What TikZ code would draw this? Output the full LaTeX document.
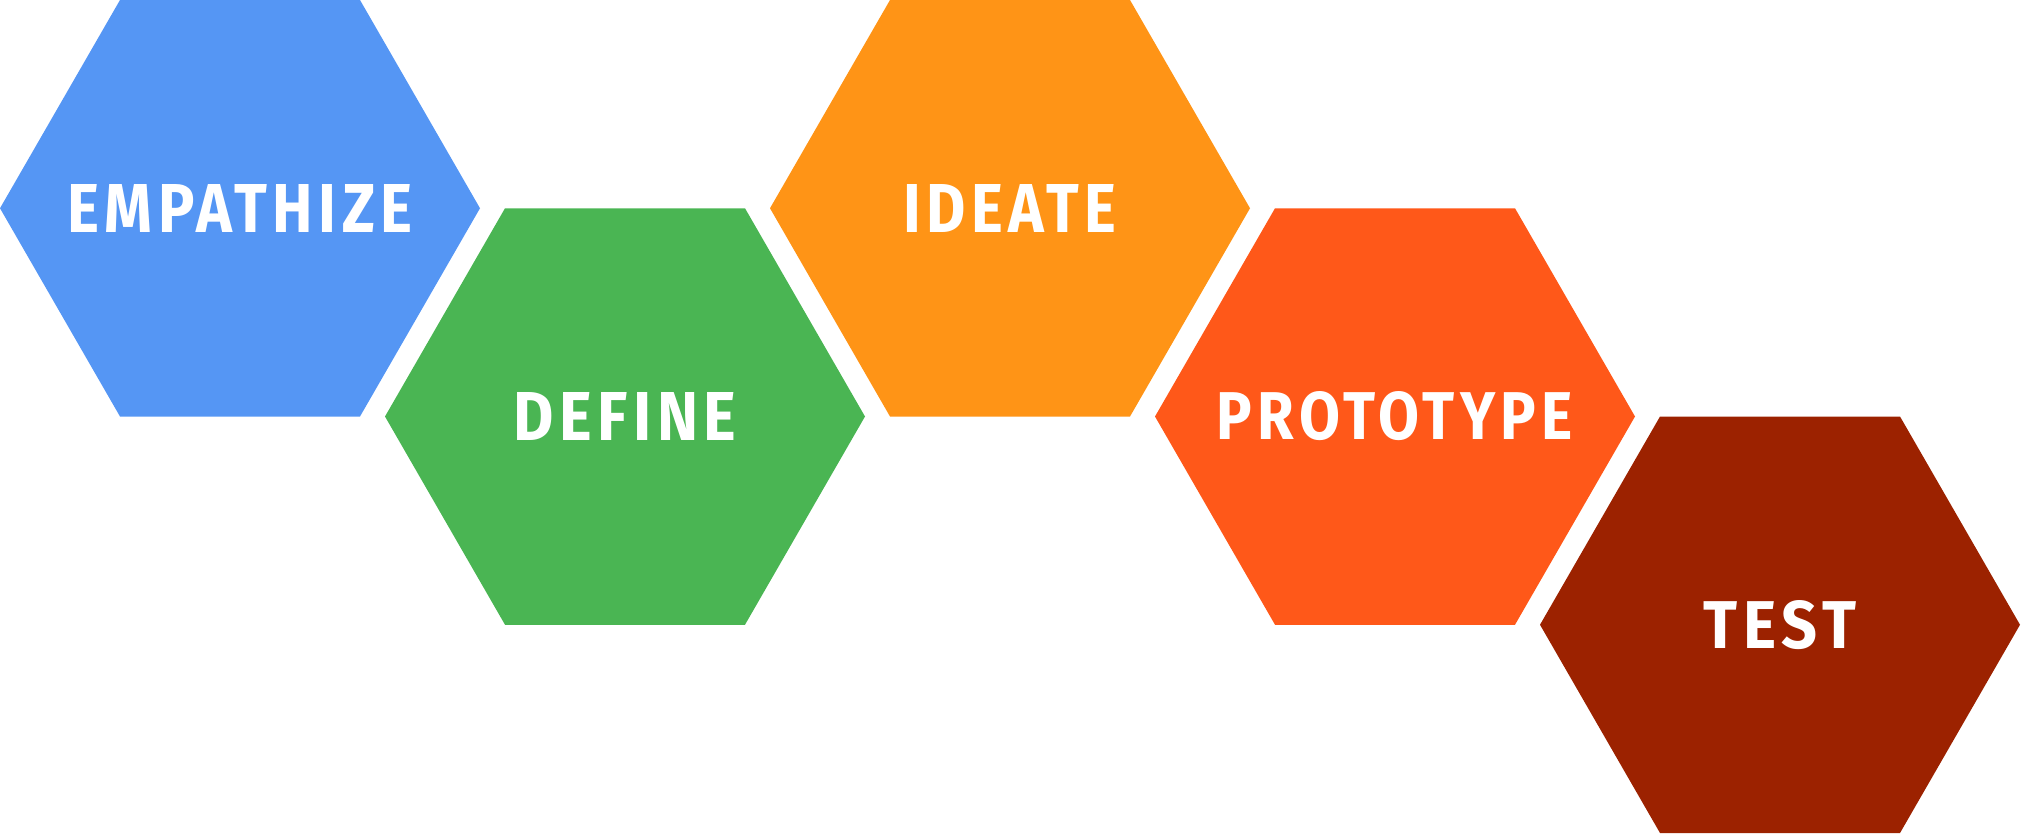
\documentclass[tikz,border=0pt]{standalone}
\usepackage{fontspec}
\usepackage{graphicx}
\setmainfont{Fira Sans}
\newfontfamily\hexfont[LetterSpace=9]{Fira Sans}
\definecolor{cEmp}{HTML}{5596F4}
\definecolor{cDef}{HTML}{4AB553}
\definecolor{cIde}{HTML}{FF9416}
\definecolor{cPro}{HTML}{FF5819}
\definecolor{cTes}{HTML}{9C2200}
\tikzset{
  hexlabel/.style={text=white, inner sep=0pt, anchor=center, font=\hexfont\bfseries}
}
\begin{document}
\begin{tikzpicture}[x=1pt,y=-1pt]
\useasboundingbox (0,0) rectangle (2021,833);
\foreach \k/\row/\col/\w/\word in {0/0/cEmp/345/EMPATHIZE,1/1/cDef/223/DEFINE,2/0/cIde/213/IDEATE,3/1/cPro/356/PROTOTYPE,4/2/cTes/152/TEST}{
  \pgfmathsetmacro{\xo}{385*\k}
  \pgfmathsetmacro{\yo}{208.25*\row}
  \fill[\col] (\xo,\yo+208.25) -- (\xo+120,\yo) -- (\xo+360,\yo) -- (\xo+480,\yo+208.25)
     -- (\xo+360,\yo+416.5) -- (\xo+120,\yo+416.5) -- cycle;
  \node[hexlabel] (lbl\k) at (\xo+240,\yo+208.25) {\resizebox{\w pt}{48pt}{\word}};
}
\end{tikzpicture}
\end{document}
